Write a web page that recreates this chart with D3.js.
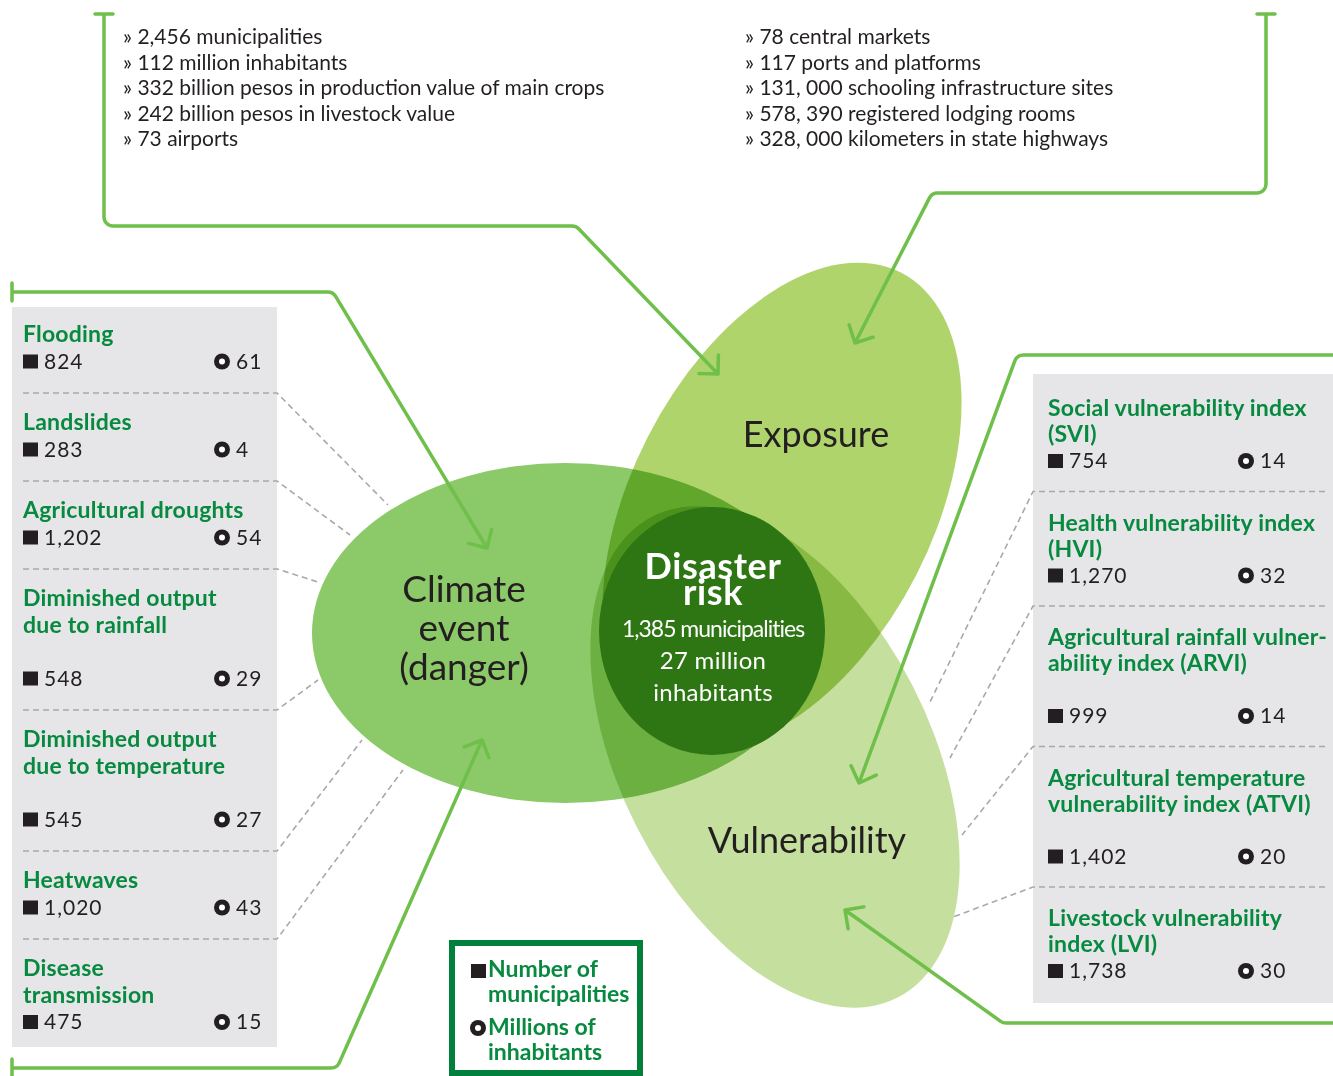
<!DOCTYPE html>
<meta charset="utf-8">
<head>
  <style>
    body { margin: 0; background: #fff; }
    text { font-family: Lato, "Open Sans", sans-serif; }
    .dark { fill: #231f20; }
    .green { fill: #078a3f; font-weight: 700; }
  </style>
  <title>Disaster risk</title>
</head>
<script src="https://cdn.jsdelivr.net/npm/d3@7"></script>
<svg width="1333" height="1076" id="svg1"></svg>
<script>
  // ---- data ----
  const exposureLeft = ['2,456 municipalities', '112 million inhabitants',
    '332 billion pesos in production value of main crops',
    '242 billion pesos in livestock value', '73 airports'];
  const exposureRight = ['78 central markets', '117 ports and platforms',
    '131, 000 schooling infrastructure sites', '578, 390 registered lodging rooms',
    '328, 000 kilometers in state highways'];

  const hazardNames = [['Flooding'], ['Landslides'], ['Agricultural droughts'],
    ['Diminished output', 'due to rainfall', ''], ['Diminished output', 'due to temperature', ''],
    ['Heatwaves'], ['Disease', 'transmission']];
  const hazardMunicipalities = [824, 283, 1202, 548, 545, 1020, 475];
  const hazardInhabitants = [61, 4, 54, 29, 27, 43, 15];

  const vulnNames = [['Social vulnerability index', '(SVI)'], ['Health vulnerability index', '(HVI)'],
    ['Agricultural rainfall vulner-', 'ability index (ARVI)', ''],
    ['Agricultural temperature', 'vulnerability index (ATVI)', ''],
    ['Livestock vulnerability', 'index (LVI)']];
  const vulnMunicipalities = [754, 1270, 999, 1402, 1738];
  const vulnInhabitants = [14, 32, 14, 20, 30];

  const riskTitle = ['Disaster', 'risk'];
  const riskMunicipalities = 1385;
  const riskInhabitants = 27;

  const climateLines = ['Climate', 'event', '(danger)'];
  const circleNames = ['Exposure', 'Vulnerability'];
  const legendLabels = [['Number of', 'municipalities'], ['Millions of', 'inhabitants']];

  // ---- setup ----
  const svg1 = d3.select('#svg1');
  const fmt = d3.format(',');
  const lineGreen = '#6fbf4b';

  // leader line ends (near the ellipses)
  const leftLeaders = [[388, 505], [350, 535], [318, 582], [318, 680], [362, 740], [403, 770]];
  const rightLeaders = [[930, 702], [950, 758], [962, 835], [953, 917]];

  // ---- venn ----
  const venn = svg1.append('g').style('isolation', 'isolate');
  const shapes = [
    {cx: 565, cy: 633, rx: 253, ry: 170, rot: 0, fill: '#8cc968'},
    {cx: 782, cy: 506, rx: 262, ry: 151, rot: -63, fill: '#b0d46c'},
    {cx: 775, cy: 757, rx: 270, ry: 155, rot: 63, fill: '#c4df9e'}
  ];
  venn.selectAll('ellipse')
    .data(shapes)
    .enter().append('ellipse')
      .attr('transform', d => `translate(${d.cx},${d.cy}) rotate(${d.rot})`)
      .attr('rx', d => d.rx)
      .attr('ry', d => d.ry)
      .attr('fill', d => d.fill)
      .style('mix-blend-mode', 'multiply');

  svg1.append('ellipse')
    .attr('cx', 712).attr('cy', 631).attr('rx', 113).attr('ry', 124)
    .attr('fill', '#2e7514');

  // big labels
  svg1.append('g').selectAll('text')
    .data(climateLines)
    .enter().append('text')
      .attr('class', 'dark')
      .attr('x', 464)
      .attr('y', (d, i) => 602 + i * 39)
      .attr('text-anchor', 'middle')
      .attr('font-size', 37)
      .text(d => d);
  svg1.append('text').attr('class', 'dark')
    .attr('x', 816).attr('y', 447).attr('text-anchor', 'middle')
    .attr('font-size', 36).text(circleNames[0]);
  svg1.append('text').attr('class', 'dark')
    .attr('x', 807).attr('y', 853).attr('text-anchor', 'middle')
    .attr('font-size', 36).text(circleNames[1]);

  // disaster risk
  const risk = svg1.append('g').attr('fill', '#fff').attr('text-anchor', 'middle');
  risk.selectAll('text.t')
    .data(riskTitle)
    .enter().append('text')
      .attr('class', 't')
      .attr('x', 713)
      .attr('y', (d, i) => 579 + i * 26)
      .attr('font-size', 36)
      .attr('font-weight', 700)
      .attr('letter-spacing', 0.6)
      .text(d => d);
  risk.selectAll('text.s')
    .data([fmt(riskMunicipalities) + ' municipalities', riskInhabitants + ' million', 'inhabitants'])
    .enter().append('text')
      .attr('class', 's')
      .attr('x', 713)
      .attr('y', (d, i) => 637 + i * 32)
      .attr('font-size', (d, i) => i == 0 ? 23 : 24)
      .attr('letter-spacing', (d, i) => i == 0 ? -1 : 0.3)
      .text(d => d);

  // ---- top exposure lists ----
  const rowY = d3.scalePoint().domain(d3.range(5)).range([44, 146]);
  [[exposureLeft, 123], [exposureRight, 745]].forEach(([list, x]) => {
    svg1.append('g').selectAll('text')
      .data(list)
      .enter().append('text')
        .attr('class', 'dark')
        .attr('x', x)
        .attr('y', (d, i) => rowY(i))
        .attr('font-size', 21)
        .text(d => '» ' + d);
  });

  // ---- side panels ----
  function ring(g, cx, cy) {
    g.append('circle').attr('cx', cx).attr('cy', cy).attr('r', 8).attr('fill', '#231f20');
    g.append('circle').attr('cx', cx).attr('cy', cy).attr('r', 3).attr('fill', '#fff');
  }

  function panel(names, munis, inhab, o) {
    const g = svg1.append('g');
    g.append('rect')
      .attr('x', o.x0).attr('y', o.top).attr('width', o.x1 - o.x0).attr('height', o.bottom - o.top)
      .attr('fill', '#e6e6e8');
    let y = o.start;
    names.forEach((lines, i) => {
      const tb = y + o.titleOff;
      lines.forEach((l, j) => {
        g.append('text').attr('class', 'green')
          .attr('x', o.tx).attr('y', tb + j * o.lh)
          .attr('font-size', 23).attr('letter-spacing', 0.2).text(l);
      });
      const vb = tb + lines.length * o.lh;
      g.append('rect').attr('x', o.tx).attr('y', vb - 14).attr('width', 15).attr('height', 14)
        .attr('fill', '#231f20');
      g.append('text').attr('class', 'dark').attr('x', o.tx + 21).attr('y', vb)
        .attr('font-size', 21).attr('letter-spacing', 1).text(fmt(munis[i]));
      ring(g, o.cx, vb - 7);
      g.append('text').attr('class', 'dark').attr('x', o.cx + 14).attr('y', vb)
        .attr('font-size', 21).attr('letter-spacing', 1).text(inhab[i]);
      const sep = vb + o.sepOff;
      if (i < names.length - 1) {
        const end = o.leaders[i];
        g.append('path')
          .attr('d', `M${o.sx0},${sep}H${o.sx1}L${end[0]},${end[1]}`)
          .attr('fill', 'none').attr('stroke', '#a9a9ab')
          .attr('stroke-width', 1.6).attr('stroke-dasharray', '6,4');
      }
      y = sep;
    });
  }

  panel(hazardNames, hazardMunicipalities, hazardInhabitants, {
    x0: 12, x1: 277, top: 307, bottom: 1047, start: 305, titleOff: 37, lh: 26.5, sepOff: 24.5,
    tx: 23, cx: 222, sx0: 23, sx1: 277, leaders: leftLeaders
  });
  panel(vulnNames, vulnMunicipalities, vulnInhabitants, {
    x0: 1033, x1: 1333, top: 374, bottom: 1003, start: 377, titleOff: 39, lh: 26, sepOff: 23.5,
    tx: 1048, cx: 1246, sx0: 1325, sx1: 1033, leaders: rightLeaders
  });

  // ---- connector arrows ----
  const connectors = [
    {pts: [[104, 14], [104, 226], [576, 226], [718, 374]], cap: 'h'},
    {pts: [[1266, 14], [1266, 193], [932, 193], [855, 343]], cap: 'h'},
    {pts: [[12, 292], [333, 292], [487, 548]], cap: 'v'},
    {pts: [[12, 1068], [337, 1068], [482, 740]], cap: 'v'},
    {pts: [[1340, 355], [1017, 355], [859, 783]], cap: null},
    {pts: [[1340, 1023], [1003, 1023], [845, 910]], cap: null}
  ];

  const arrows = svg1.append('g')
    .attr('fill', 'none').attr('stroke', lineGreen).attr('stroke-width', 3.5)
    .attr('stroke-linecap', 'round').attr('stroke-linejoin', 'round');

  connectors.forEach(c => {
    const p = d3.path();
    const pts = c.pts;
    p.moveTo(pts[0][0], pts[0][1]);
    for (let i = 1; i < pts.length - 1; i++) {
      p.arcTo(pts[i][0], pts[i][1], pts[i + 1][0], pts[i + 1][1], 9);
    }
    const tip = pts[pts.length - 1], prev = pts[pts.length - 2];
    p.lineTo(tip[0], tip[1]);
    const ang = Math.atan2(tip[1] - prev[1], tip[0] - prev[0]);
    [Math.PI * 0.75, -Math.PI * 0.75].forEach(a => {
      p.moveTo(tip[0], tip[1]);
      p.lineTo(tip[0] + 19 * Math.cos(ang + a), tip[1] + 19 * Math.sin(ang + a));
    });
    if (c.cap == 'h') {
      p.moveTo(pts[0][0] - 9, pts[0][1]); p.lineTo(pts[0][0] + 9, pts[0][1]);
    } else if (c.cap == 'v') {
      p.moveTo(pts[0][0], pts[0][1] - 9); p.lineTo(pts[0][0], pts[0][1] + 9);
    }
    arrows.append('path').attr('d', p.toString());
  });

  // ---- legend ----
  const legend = svg1.append('g');
  legend.append('rect')
    .attr('x', 452).attr('y', 943).attr('width', 188).attr('height', 130)
    .attr('fill', '#fff').attr('stroke', '#00803c').attr('stroke-width', 6);
  legend.append('rect').attr('x', 471).attr('y', 964).attr('width', 15).attr('height', 14)
    .attr('fill', '#231f20');
  ring(legend, 478, 1028);
  legendLabels.forEach((lines, i) => {
    lines.forEach((l, j) => {
      legend.append('text').attr('class', 'green')
        .attr('x', 488).attr('y', 977 + i * 58 + j * 25)
        .attr('font-size', 23).text(l);
    });
  });
</script>
